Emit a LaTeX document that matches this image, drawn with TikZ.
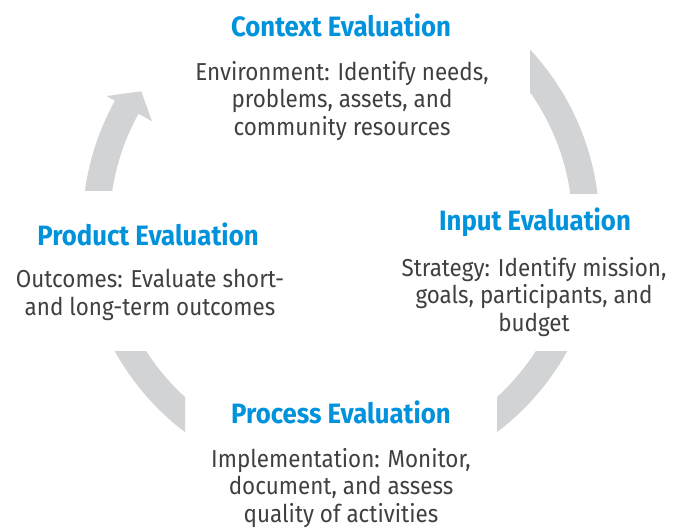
\documentclass[tikz,border=0pt]{standalone}
\usepackage{fontspec}
\usetikzlibrary{calc}
\setmainfont{Fira Sans}
\newfontfamily\titlefont[FakeStretch=0.92]{Fira Sans Bold}
\newfontfamily\bodyfont[FakeStretch=0.915]{Fira Sans}
\definecolor{cippblue}{HTML}{0092DB}
\definecolor{cipptext}{HTML}{404040}
\definecolor{ringgrey}{HTML}{D1D3D4}
\tikzset{
  steptitle/.style={anchor=base, inner sep=0pt, text=cippblue,
    font=\titlefont\fontsize{28}{30}\selectfont},
  % the base anchor of a multi-line node sits on its last line
  stepbody/.style={anchor=base, inner sep=0pt, align=center, text=cipptext,
    font=\bodyfont\fontsize{24.5}{27.3}\selectfont},
  ring/.style={draw=ringgrey, line width=27pt},
}
\begin{document}
\begin{tikzpicture}[x=1pt, y=-1pt]
  \useasboundingbox (0,0) rectangle (674,527);
  \coordinate (c) at (341,226);

  % cycle ring, one visible piece per gap between the stages
  \begin{scope}
    \clip (0,0) rectangle (341,190);
    \draw[ring] ($(c)+(170:245)$) arc[start angle=170, end angle=209.5, radius=245];
  \end{scope}
  \fill[ringgrey] ($(c)+(209:216)$) -- ($(c)+(209:268)$) -- ($(c)+(214:241)$) -- cycle;
  \begin{scope}
    \clip (530,0) rectangle (674,193);
    \draw[ring] ($(c)+(250:245)$) arc[start angle=250, end angle=370, radius=245];
  \end{scope}
  \begin{scope}
    \clip (497,351) rectangle (674,527);
    \draw[ring] ($(c)+(0:245)$) arc[start angle=0, end angle=90, radius=245];
  \end{scope}
  \begin{scope}
    \clip (0,351) rectangle (185,527);
    \draw[ring] ($(c)+(90:245)$) arc[start angle=90, end angle=180, radius=245];
  \end{scope}

  % stages
  \node[steptitle] (ctxT) at (341,37) {Context Evaluation};
  \node[stepbody]  (ctxB) at (342,135) {Environment: Identify needs,\\problems, assets, and\\community resources};

  \node[steptitle] (inT) at (535,230) {Input Evaluation};
  \node[stepbody]  (inB) at (534,331) {Strategy: Identify mission,\\goals, participants, and\\budget};

  \node[steptitle] (prT) at (341,423) {Process Evaluation};
  \node[stepbody]  (prB) at (341,522) {Implementation: Monitor,\\document, and assess\\quality of activities};

  \node[steptitle] (pdT) at (148,245) {Product Evaluation};
  \node[stepbody]  (pdB) at (150,315) {Outcomes: Evaluate short-\\and long-term outcomes};
\end{tikzpicture}
\end{document}
